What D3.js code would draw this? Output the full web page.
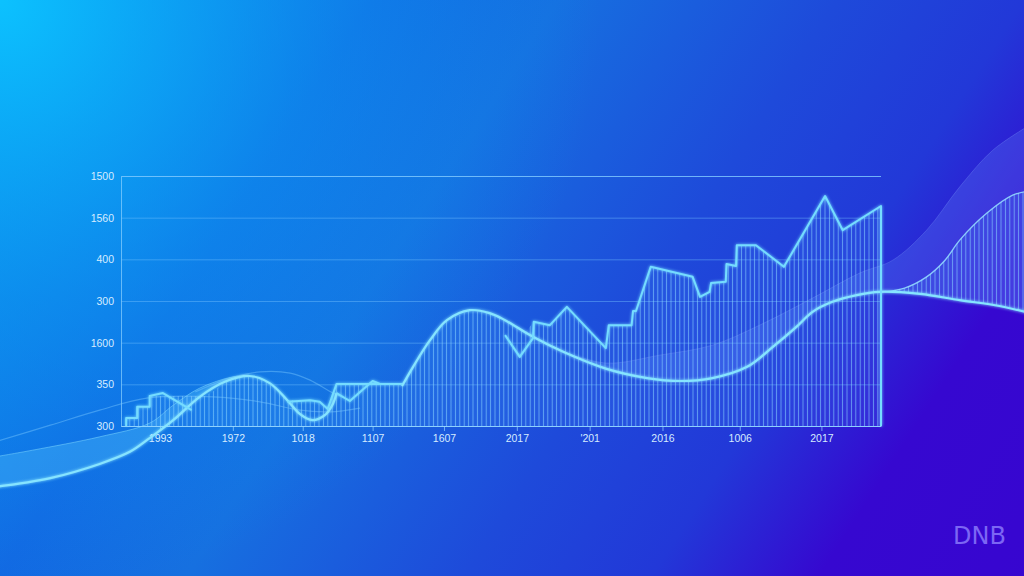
<!DOCTYPE html>
<html><head><meta charset="utf-8">
<script src="https://cdn.jsdelivr.net/npm/d3@7"></script>
<style>html,body{margin:0;padding:0;background:#1a5ee0;overflow:hidden}svg{display:block}</style>
</head><body><svg id="c" width="1024" height="576"></svg>
<script>
// ---- data ----
const yTickValues=[0,100,200,300,400,500,600];
const yTickLabels=["300","350","1600","300","400","1560","1500"];
const xTickValues=[5.3,15.2,24.7,34.2,43.9,53.8,63.7,73.6,84.1,95.2];
const xTickLabels=["1993","1972","1018","1107","1607","2017","'201","2016","1006","2017"];

// jagged series, pieces
const stepLeft=[[0.7,0],[0.7,19],[2.2,19],[2.2,46],[3.9,46],[3.9,72],[5.7,79],[9.6,38]];
const stepMid=[[22.6,58],[25.7,62],[27.0,58],[28.1,41],[29.3,101],[38.2,101]];
const stepZig=[[29.3,79],[31.1,60],[34.2,108],[35.2,101]];
const stepRight=[[52.2,218],[54.2,166],[56.0,211],[56.1,250],[58.3,242],[60.6,286],[65.9,187],[66.3,242],[69.4,242],[69.6,276],[70.0,276],[72.0,382],[77.7,358],[78.7,310],[80.0,322],[80.2,343],[82.2,346],[82.3,389],[83.6,384],[83.7,434],[86.3,434],[90.1,382],[95.7,552],[98.1,470],[103.3,528],[103.3,0]];

// smooth series
const smoothLeft=[[-17.1,-146],[-9.6,-125],[-2.9,-91],[1.2,-62],[3.9,-29],[7.1,14],[10.7,70],[14.1,106],[17.5,120],[20.2,103],[22.6,62],[24.3,29],[26.0,14],[27.7,26],[28.8,53],[29.3,79]];
const smoothRight=[[38.2,96],[39.7,142],[42.0,206],[44.3,254],[47.4,278],[50.1,271],[52.2,254],[56.0,214],[60.1,178],[66.0,137],[71.5,115],[76.0,108],[80.4,115],[85.1,142],[88.6,190],[91.8,238],[94.0,274],[96.7,298],[100.0,314],[103.1,322],[108.6,317],[114.0,302],[119.4,288],[123.5,271]];

// envelope of the hatched area
const fillTop=[[0.7,0],[0.7,19],[2.2,19],[2.2,46],[3.9,46],[3.9,72],[11.4,72],[12.8,86],[14.1,106],[15.8,115],[17.5,120],[19.1,115],[20.9,91],[22.6,62],[25.7,62],[27.0,58],[28.1,41],[29.3,101],[38.2,101],[39.7,142],[42.0,206],[44.3,254],[47.4,278],[50.1,271],[52.2,254],[54.9,223],[56.1,250],[58.3,242],[60.6,286],[65.9,187],[66.3,242],[69.4,242],[69.6,276],[70.0,276],[72.0,382],[77.7,358],[78.7,310],[80.0,322],[80.2,343],[82.2,346],[82.3,389],[83.6,384],[83.7,434],[86.3,434],[90.1,382],[95.7,552],[98.1,470],[103.3,528],[103.3,0]];

// decorative ribbons
const rightUpper=[[103.8,322],[106.5,331],[109.5,358],[112.0,398],[114.0,446],[117.7,511],[121.2,554],[123.5,564]];
const rightBand=[[60.1,178],[66.0,151],[73.2,170],[80.4,194],[86.8,242],[94.0,307],[100.4,367],[104.9,398],[109.5,470],[114.0,574],[118.5,662],[123.5,722]];
const leftUpper=[[-17.1,-74],[-12.0,-58],[-2.9,-26],[3.9,7],[7.1,50],[10.7,91],[15.2,118],[17.5,120]];
const faint1=[[-17.1,-38],[-9.6,2],[-2.9,38],[3.5,67],[12.5,70],[18.9,58],[24.3,38],[28.4,34],[32.5,43]];
const faint2=[[10.1,82],[14.8,115],[18.9,130],[23.0,127],[25.7,110],[28.8,79],[31.1,62]];

// ---- drawing ----
const W=1024,H=576;
const svg=d3.select("#c");
const x=d3.scaleLinear().domain([0,103.3]).range([121,881]);
const y=d3.scaleLinear().domain([0,600]).range([426,176]);
const defs=svg.append("defs");

const bg=defs.append("linearGradient").attr("id","bg").attr("gradientUnits","userSpaceOnUse")
  .attr("x1",0).attr("y1",0).attr("x2",1313).attr("y2",849);
[[0,"#0c92ee"],[0.2,"#1268e2"],[0.3,"#1670e0"],[0.45,"#1e4ada"],[0.55,"#2238d8"],[0.64,"#3608d0"],[1,"#3a00d0"]]
  .forEach(s=>bg.append("stop").attr("offset",s[0]).attr("stop-color",s[1]));
const rg=defs.append("radialGradient").attr("id","tl").attr("gradientUnits","userSpaceOnUse")
  .attr("cx",0).attr("cy",0).attr("r",600);
rg.append("stop").attr("offset",0).attr("stop-color","#0cc4ff").attr("stop-opacity",0.95);
rg.append("stop").attr("offset",0.5).attr("stop-color","#0aa0f4").attr("stop-opacity",0.5);
rg.append("stop").attr("offset",1).attr("stop-color","#0a90f0").attr("stop-opacity",0);

const pat=defs.append("pattern").attr("id","hatch").attr("patternUnits","userSpaceOnUse")
  .attr("width",4.4).attr("height",20);
pat.append("rect").attr("width",4.4).attr("height",20).attr("fill","rgba(70,150,255,0.16)");
pat.append("line").attr("x1",2.2).attr("x2",2.2).attr("y1",0).attr("y2",20)
  .attr("stroke","rgba(140,215,255,0.6)").attr("stroke-width",1);

const glow=defs.append("filter").attr("id","glow").attr("filterUnits","userSpaceOnUse")
  .attr("x",0).attr("y",0).attr("width",W).attr("height",H);
glow.append("feGaussianBlur").attr("stdDeviation",1.6).attr("result","b");
const fm=glow.append("feMerge");fm.append("feMergeNode").attr("in","b");fm.append("feMergeNode").attr("in","SourceGraphic");

svg.append("rect").attr("width",W).attr("height",H).attr("fill","url(#bg)");
svg.append("rect").attr("width",W).attr("height",H).attr("fill","url(#tl)");

const lin=d3.line().x(d=>x(d[0])).y(d=>y(d[1]));
const smooth=d3.line().x(d=>x(d[0])).y(d=>y(d[1])).curve(d3.curveCatmullRom.alpha(0.5));
function band(upper,lower){return smooth(upper)+smooth(lower.slice().reverse()).replace(/^M/,"L")+"Z";}

// translucent ribbon on the right
const lowerR=smoothRight.filter(d=>d[0]>=60.1);
svg.append("path").attr("d",band(rightBand,lowerR)).attr("fill","rgba(110,150,255,0.24)");
// left ribbon
const lowerL=smoothLeft.filter(d=>d[0]<=17.5);
svg.append("path").attr("d",band(leftUpper,lowerL)).attr("fill","rgba(90,205,255,0.32)");

// grid + axes
svg.append("g").attr("transform","translate(121,0)")
  .call(d3.axisLeft(y).tickValues(yTickValues).tickFormat((d,i)=>yTickLabels[i]).tickSize(-760).tickPadding(7))
  .call(g=>{g.select(".domain").attr("stroke","rgba(140,210,255,0.7)");
    g.selectAll(".tick line").attr("stroke","rgba(120,195,255,0.42)");
    g.selectAll(".tick text").attr("fill","#d6ecff").attr("font-size","10.5px").attr("font-family","Liberation Sans, Arial, sans-serif");});

// hatched area
svg.append("path").attr("d",lin(fillTop)+"Z").attr("fill","url(#hatch)");
// right outside hatched area
const lowerOut=smoothRight.filter(d=>d[0]>=103.1);
svg.append("path").attr("d",band(rightUpper,lowerOut)).attr("fill","url(#hatch)");

svg.append("g").attr("transform","translate(0,426)")
  .call(d3.axisBottom(x).tickValues(xTickValues).tickFormat((d,i)=>xTickLabels[i]).tickSize(5).tickSizeOuter(0).tickPadding(4))
  .call(g=>{g.select(".domain").attr("stroke","rgba(150,215,255,0.8)");
    g.selectAll(".tick line").attr("stroke","rgba(150,215,255,0.7)");
    g.selectAll(".tick text").attr("fill","#d6ecff").attr("font-size","10.5px").attr("font-family","Liberation Sans, Arial, sans-serif");});

// faint lines
[faint1,faint2].forEach(a=>svg.append("path").attr("d",smooth(a)).attr("fill","none")
  .attr("stroke","rgba(120,200,255,0.45)").attr("stroke-width",1.2));
svg.append("path").attr("d",smooth(leftUpper)).attr("fill","none").attr("stroke","rgba(130,220,255,0.5)").attr("stroke-width",1);
svg.append("path").attr("d",smooth(rightUpper)).attr("fill","none").attr("stroke","rgba(150,225,255,0.85)").attr("stroke-width",1.4);
svg.append("path").attr("d",smooth(rightBand)).attr("fill","none").attr("stroke","rgba(140,170,255,0.25)").attr("stroke-width",1);

const g2=svg.append("g").attr("filter","url(#glow)");
[smoothLeft,smoothRight].forEach(a=>g2.append("path").attr("d",smooth(a)).attr("fill","none")
  .attr("stroke","#86e4ff").attr("stroke-width",2.2).attr("stroke-linejoin","round"));
[stepLeft,stepMid,stepZig,stepRight].forEach(a=>g2.append("path").attr("d",lin(a)).attr("fill","none")
  .attr("stroke","#74dcff").attr("stroke-width",2).attr("stroke-linejoin","round"));

svg.append("text").attr("x",1006).attr("y",544).attr("text-anchor","end")
  .attr("font-family","DejaVu Sans, sans-serif").attr("font-size","24px").attr("fill","#7c66f4").text("DNB");
</script></body></html>
